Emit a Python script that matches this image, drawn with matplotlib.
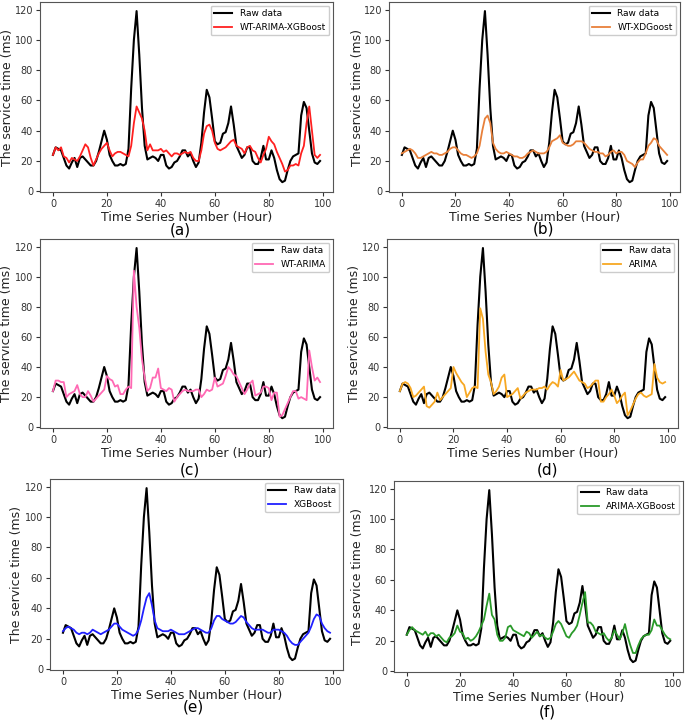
import matplotlib
matplotlib.use('Agg')
import matplotlib.pyplot as plt
import numpy as np

hours = np.arange(100)

raw = [24, 29, 28, 27, 22, 17, 15, 19, 22, 16,
       22, 23, 21, 19, 17, 17, 20, 26, 33, 40,
       34, 24, 20, 17, 17, 18, 17, 18, 28, 68,
       100, 119, 90, 55, 30, 21, 22, 23, 22, 20,
       24, 24, 17, 15, 16, 19, 20, 23, 27, 27,
       23, 25, 20, 16, 19, 32, 52, 67, 62, 48,
       33, 31, 32, 38, 39, 45, 56, 44, 30, 26,
       22, 24, 29, 29, 20, 18, 18, 22, 30, 21,
       21, 27, 22, 14, 8, 6, 7, 14, 20, 23,
       24, 25, 50, 59, 55, 40, 25, 19, 18, 20]

wt_arima_xgb = [24, 29, 27, 29, 23, 22, 19, 22, 21, 20,
                23, 27, 31, 29, 22, 17, 21, 25, 28, 30,
                32, 27, 23, 25, 26, 26, 25, 24, 23, 30,
                45, 56, 52, 48, 40, 27, 31, 27, 27, 27,
                28, 26, 27, 25, 23, 25, 25, 24, 25, 26,
                25, 26, 22, 20, 20, 27, 38, 43, 44, 40,
                32, 28, 27, 28, 29, 31, 33, 34, 30, 29,
                28, 25, 29, 30, 27, 26, 22, 19, 24, 28,
                36, 33, 31, 26, 22, 18, 13, 14, 17, 17,
                18, 17, 25, 30, 45, 56, 40, 24, 22, 24]

wt_xgb = [25, 26, 27, 28, 27, 25, 22, 22, 23, 24,
          25, 26, 25, 25, 24, 24, 25, 26, 28, 29,
          29, 27, 25, 24, 24, 23, 22, 23, 25, 30,
          40, 48, 50, 45, 32, 28, 26, 25, 25, 26,
          25, 24, 23, 23, 22, 22, 23, 25, 26, 27,
          26, 25, 25, 25, 26, 29, 33, 34, 35, 37,
          32, 31, 30, 30, 31, 33, 33, 33, 32, 30,
          28, 27, 26, 26, 25, 25, 23, 24, 26, 27,
          25, 26, 26, 24, 20, 19, 18, 16, 19, 21,
          21, 25, 30, 32, 35, 34, 30, 28, 26, 24]

wt_arima = [24, 31, 31, 30, 30, 20, 22, 23, 24, 28,
            22, 20, 20, 24, 21, 17, 19, 21, 23, 25,
            34, 32, 31, 27, 28, 22, 22, 25, 27, 26,
            104, 80, 66, 45, 33, 24, 26, 33, 33, 39,
            26, 25, 24, 26, 25, 17, 20, 22, 24, 25,
            24, 24, 24, 25, 25, 20, 22, 25, 24, 25,
            33, 27, 28, 29, 34, 40, 38, 35, 34, 30,
            26, 22, 25, 29, 31, 21, 22, 23, 27, 27,
            26, 18, 23, 23, 7, 8, 12, 16, 20, 24,
            24, 19, 20, 19, 18, 51, 40, 31, 33, 30]

arima = [24, 29, 30, 29, 26, 20, 21, 23, 25, 27,
         14, 13, 15, 17, 23, 18, 20, 22, 24, 26,
         40, 36, 33, 30, 28, 20, 23, 26, 27, 26,
         79, 72, 50, 35, 30, 22, 24, 27, 33, 35,
         20, 21, 22, 24, 26, 19, 21, 23, 24, 25,
         25, 25, 26, 26, 27, 25, 28, 30, 29, 27,
         38, 31, 32, 33, 35, 37, 34, 31, 30, 29,
         26, 27, 29, 31, 31, 17, 17, 20, 22, 25,
         21, 16, 18, 21, 23, 8, 11, 15, 19, 22,
         23, 21, 20, 21, 22, 42, 33, 30, 29, 30]

xgb = [25, 27, 28, 27, 26, 24, 23, 24, 24, 23,
       24, 26, 25, 24, 23, 24, 25, 26, 28, 30,
       30, 28, 26, 25, 24, 23, 22, 23, 26, 32,
       40, 47, 50, 42, 32, 27, 26, 25, 25, 25,
       26, 25, 24, 23, 23, 23, 24, 25, 26, 27,
       27, 26, 25, 24, 24, 27, 32, 35, 35, 33,
       32, 31, 30, 30, 31, 33, 35, 34, 31, 29,
       27, 26, 26, 26, 26, 25, 24, 24, 26, 26,
       26, 25, 24, 22, 19, 17, 16, 16, 18, 20,
       22, 24, 28, 33, 36, 35, 30, 27, 25, 24]

arima_xgb = [24, 27, 29, 27, 26, 25, 24, 26, 23, 25,
             25, 23, 24, 22, 20, 19, 22, 23, 25, 30,
             26, 25, 21, 22, 20, 21, 23, 26, 30, 34,
             43, 51, 37, 34, 24, 20, 20, 22, 29, 30,
             27, 26, 25, 24, 23, 26, 25, 22, 24, 26,
             23, 24, 22, 21, 22, 26, 31, 33, 31, 27,
             23, 22, 25, 27, 30, 37, 45, 52, 32, 32,
             30, 26, 25, 24, 25, 22, 20, 22, 27, 24,
             21, 25, 31, 23, 17, 12, 12, 17, 21, 23,
             24, 24, 27, 34, 30, 30, 27, 24, 22, 21]

models = ['WT-ARIMA-XGBoost', 'WT-XDGoost', 'WT-ARIMA', 'ARIMA', 'XGBoost', 'ARIMA-XGBoost']
preds = [wt_arima_xgb, wt_xgb, wt_arima, arima, xgb, arima_xgb]
colors = ['#ff2020', '#e8803a', '#ff69b4', '#f7a823', '#2020ff', '#2a9a2a']
letters = ['(a)', '(b)', '(c)', '(d)', '(e)', '(f)']

# axes boxes in pixels: left, top, right, bottom
boxes = [(40, 2, 333, 192), (389, 2, 680, 192),
         (40, 239, 333, 428), (387, 239, 678, 428),
         (50, 479, 343, 670), (394, 481, 683, 672)]
# ylabel x centre, xlabel y centre, letter (x, y) centre in pixels
ylab_x = [8, 357, 7, 355, 17, 357]
xlab_y = [217, 217, 453, 453, 695, 697]
letter_xy = [(180, 230), (543, 229), (190, 470), (547, 470), (193, 707), (547, 712)]

W, H = 685, 720
fig = plt.figure(figsize=(W / 100, H / 100), dpi=100)

for i in range(6):
    l, t, r, b = boxes[i]
    ax = fig.add_axes([l / W, 1 - b / H, (r - l) / W, (b - t) / H])
    ax.plot(hours, raw, color='black', lw=1.5, label='Raw data')
    ax.plot(hours, preds[i], color=colors[i], lw=1.3, label=models[i])
    ax.set_xlim(-4.8, 103.8)
    ax.set_ylim(-0.5, 125)
    ax.set_xticks([0, 20, 40, 60, 80, 100])
    ax.set_yticks([0, 20, 40, 60, 80, 100, 120])
    ax.tick_params(labelsize=7, colors='#333333', length=3, pad=2)
    for s in ax.spines.values():
        s.set_color('#555555')
    ax.set_ylabel('The service time (ms)', fontsize=9, color='#222222')
    ax.yaxis.set_label_coords((ylab_x[i] - l) / (r - l), 0.5)
    ax.set_xlabel('Time Series Number (Hour)', fontsize=9, color='#222222')
    ax.xaxis.set_label_coords(0.5, (b - xlab_y[i]) / (b - t))
    ax.xaxis.label.set_va('center')
    ax.yaxis.label.set_va('center')
    ax.legend(loc='upper right', fontsize=6.5, framealpha=1, borderaxespad=0.4)
    fig.text(letter_xy[i][0] / W, 1 - letter_xy[i][1] / H, letters[i],
             ha='center', va='center', fontsize=11)

fig.savefig('out.png', dpi=100)
